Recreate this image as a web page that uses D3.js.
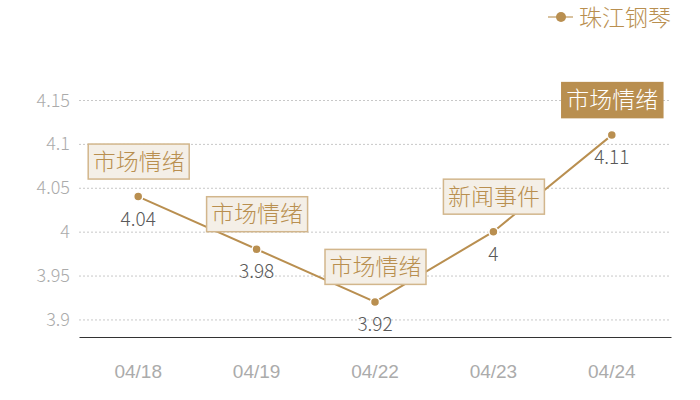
<!DOCTYPE html>
<html lang="zh">
<head>
<meta charset="utf-8">
<title>珠江钢琴</title>
<script src="https://d3js.org/d3.v7.min.js"></script>
<style>
    body { margin: 0; background: #fff; }
    svg { display: block; font-family: "Noto Sans CJK SC", "Noto Sans", sans-serif; font-weight: 300; }
    .grid line { stroke: #c8c8c8; stroke-dasharray: 2,2; }
    .tick-label { fill: #ababab; font-size: 18px; }
    .val-label { fill: #595959; font-size: 19px; text-anchor: middle; }
</style>
</head>
<body>
<script>

// data
const dates = ["04/18", "04/19", "04/22", "04/23", "04/24"];
const prices = [4.04, 3.98, 3.92, 4.00, 4.11];
const notes = ["市场情绪", "市场情绪", "市场情绪", "新闻事件", "市场情绪"];
const yTicks = [3.9, 3.95, 4, 4.05, 4.1, 4.15];
const seriesName = "珠江钢琴";

const gold = "#b98f50";

let W = 700, H = 400;
let margin = { top: 100, right: 29, bottom: 63, left: 79 };
let w = W - margin.left - margin.right,
    h = H - margin.top - margin.bottom;

let svg = d3.select("body").append("svg")
    .attr("width", W)
    .attr("height", H);

let x = d3.scaleBand()
    .domain(dates)
    .range([margin.left, margin.left + w]);

let y = d3.scaleLinear()
    .domain([3.88, 4.15])
    .range([margin.top + h, margin.top]);

// gridlines
svg.append("g").attr("class", "grid")
    .selectAll("line")
    .data(yTicks)
    .enter().append("line")
    .attr("x1", margin.left)
    .attr("x2", margin.left + w)
    .attr("y1", d => y(d) + 0.5)
    .attr("y2", d => y(d) + 0.5);

// y tick labels
svg.append("g")
    .selectAll("text")
    .data(yTicks)
    .enter().append("text")
    .attr("class", "tick-label")
    .attr("x", 70)
    .attr("y", d => y(d) + 6.5)
    .attr("text-anchor", "end")
    .text(d => d);

// x axis
let xAxis = d3.axisBottom(x).tickSize(0).tickPadding(28);
let gx = svg.append("g")
    .attr("transform", "translate(0," + (margin.top + h) + ")")
    .call(xAxis);
gx.select(".domain").attr("stroke", "#333").attr("stroke-width", 1.2);
gx.selectAll("text")
    .attr("class", "tick-label")
    .attr("fill", null)
    .style("font-family", "inherit")
    .style("font-size", "19px")
    .style("font-weight", 300);

let cx = d => x(d) + x.bandwidth() / 2;

// line
let line = d3.line()
    .x((d, i) => cx(dates[i]))
    .y(d => y(d));

svg.append("path")
    .datum(prices)
    .attr("fill", "none")
    .attr("stroke", gold)
    .attr("stroke-width", 2)
    .attr("d", line);

// points
svg.append("g")
    .selectAll("circle")
    .data(prices)
    .enter().append("circle")
    .attr("cx", (d, i) => cx(dates[i]))
    .attr("cy", d => y(d))
    .attr("r", 4.5)
    .attr("fill", gold)
    .attr("stroke", "#fff")
    .attr("stroke-width", 1.5);

// value labels
svg.append("g")
    .selectAll("text")
    .data(prices)
    .enter().append("text")
    .attr("class", "val-label")
    .attr("x", (d, i) => cx(dates[i]))
    .attr("y", d => y(d) + 29)
    .text(d => d);

// annotation boxes
let boxW = 101, boxH = 35;
let last = prices.length - 1;
let notesG = svg.append("g")
    .selectAll("g")
    .data(prices)
    .enter().append("g")
    .attr("transform", (d, i) =>
        "translate(" + (cx(dates[i]) - boxW / 2) + "," + (y(d) - 18 - boxH) + ")");

notesG.append("rect")
    .attr("x", 0.5).attr("y", 0.5)
    .attr("width", boxW).attr("height", boxH)
    .attr("fill", (d, i) => i === last ? gold : "#f4efe7")
    .attr("stroke", (d, i) => i === last ? gold : "#d2b68c")
    .attr("stroke-width", 1.5);

notesG.append("text")
    .attr("x", boxW / 2 + 0.5)
    .attr("y", boxH / 2 + 8.5)
    .attr("text-anchor", "middle")
    .attr("font-size", "23px")
    .attr("fill", (d, i) => i === last ? "#fff" : gold)
    .text((d, i) => notes[i]);

// legend
let lg = svg.append("g").attr("transform", "translate(548,17)");
lg.append("line")
    .attr("x1", 0).attr("x2", 25)
    .attr("stroke", "#d9c29e").attr("stroke-width", 2);
lg.append("circle")
    .attr("cx", 13).attr("r", 5)
    .attr("fill", gold);
lg.append("text")
    .attr("x", 31).attr("y", 8.5)
    .attr("font-size", "23px")
    .attr("fill", gold)
    .text(seriesName);

</script>
</body>
</html>
